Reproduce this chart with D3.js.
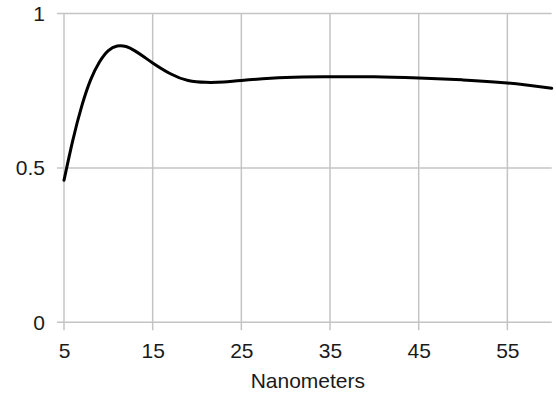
<!DOCTYPE html>
<html>
<head>
<meta charset="utf-8">
<script src="https://cdn.jsdelivr.net/npm/d3@7"></script>
<style>
  body { margin: 0; background: #fff; }
  text { font-family: "Liberation Sans", Arial, sans-serif; }
</style>
</head>
<body>
<div id="chart"></div>
<script>
// values
const nm = [5, 6, 7, 8, 9, 10, 11, 12, 13, 14, 15, 17, 19, 21, 23, 25, 30, 35, 40, 45, 50, 55, 60];
const value = [0.46, 0.59, 0.70, 0.785, 0.843, 0.88, 0.895, 0.893, 0.879, 0.86, 0.84, 0.805, 0.783, 0.777, 0.778, 0.783, 0.793, 0.795, 0.795, 0.791, 0.785, 0.775, 0.758];
const xTicks = [5, 15, 25, 35, 45, 55];
const yTicks = [0, 0.5, 1];
const xLabel = 'Nanometers';

const W = 556, H = 396;
const margin = {top: 13.5, right: 4.3, bottom: 73.7, left: 64};
const width = W - margin.left - margin.right;
const height = H - margin.top - margin.bottom;

const svg = d3.select('#chart').append('svg')
  .attr('width', W)
  .attr('height', H)
  .append('g')
  .attr('transform', `translate(${margin.left},${margin.top})`);

const x = d3.scaleLinear().domain([5, 60]).range([0, width]);
const y = d3.scaleLinear().domain([0, 1]).range([height, 0]);

const gridColor = '#c4c4c4';

// horizontal grid lines (with the little tick stubs on the left)
svg.append('g')
  .selectAll('line')
  .data(yTicks)
  .enter()
  .append('line')
  .attr('x1', -7)
  .attr('x2', width)
  .attr('y1', d => y(d))
  .attr('y2', d => y(d))
  .style('stroke', gridColor)
  .style('stroke-width', 1.5);

// vertical grid lines, going a bit under the x axis
svg.append('g')
  .selectAll('line')
  .data(xTicks)
  .enter()
  .append('line')
  .attr('x1', d => x(d))
  .attr('x2', d => x(d))
  .attr('y1', 0)
  .attr('y2', height + 8)
  .style('stroke', gridColor)
  .style('stroke-width', 1.5);

// axes, only for the labels
const xAxis = svg.append('g')
  .attr('transform', `translate(0,${height})`)
  .call(d3.axisBottom(x).tickValues(xTicks).tickSize(8).tickPadding(13).tickFormat(d3.format('d')));

const yAxis = svg.append('g')
  .call(d3.axisLeft(y).tickValues(yTicks).tickSize(7).tickPadding(12).tickFormat(d => String(d)));

[xAxis, yAxis].forEach(a => {
  a.select('.domain').remove();
  a.selectAll('.tick line').remove();
  a.selectAll('text')
    .style('font-size', '21px')
    .style('fill', '#1a1a1a');
});

svg.append('text')
  .attr('x', width / 2)
  .attr('y', height + 66)
  .attr('text-anchor', 'middle')
  .style('font-size', '21px')
  .style('fill', '#1a1a1a')
  .text(xLabel);

const line = d3.line()
  .x((d, i) => x(nm[i]))
  .y((d, i) => y(value[i]))
  .curve(d3.curveNatural);

svg.append('path')
  .datum(value)
  .attr('d', line)
  .style('fill', 'none')
  .style('stroke', '#000')
  .style('stroke-width', 3)
  .style('stroke-linecap', 'round');
</script>
</body>
</html>
